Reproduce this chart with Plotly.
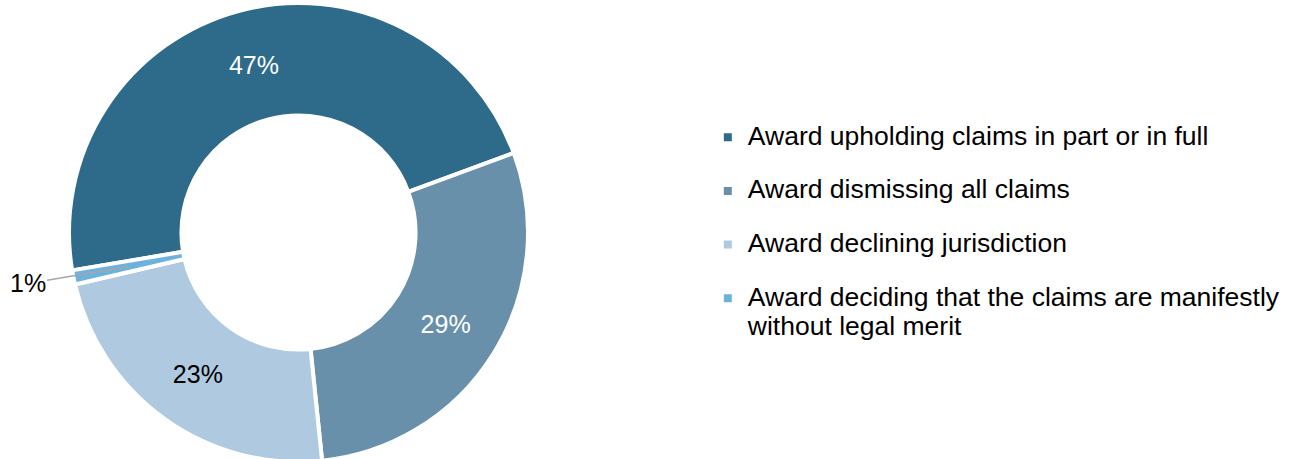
import math
import plotly.graph_objects as go

categories = [
    "Award upholding claims in part or in full",
    "Award dismissing all claims",
    "Award declining jurisdiction",
    "Award deciding that the claims are manifestly<br>without legal merit",
]
shares = [47, 29, 23, 1]
colors = ["#2E6A8A", "#6890AB", "#AFCAE0", "#6DB1DD"]
label_colors = ["white", "white", "black", "black"]
text_positions = ["inside", "inside", "inside", "none"]

W, H = 1294, 462
M_TOP = 3
ROTATION = -99.5
HOLE = 0.51
DOM_X = [0, 0.46136]
FONT = "Liberation Sans, Arial, sans-serif"

# legend entries: pad single-line labels with a blank second line so items are evenly spaced
span1 = '<span style="font-size:26.5px">'
span2 = '<span style="font-size:26.5px;baseline-shift:-3.5px">'
legend_labels = []
for c in categories:
    if "<br>" in c:
        first, second = c.split("<br>", 1)
        t = span1 + first + "</span><br>" + span2 + second + "</span>"
    else:
        t = span1 + c + "</span><br> "
    legend_labels.append(t)

fig = go.Figure(
    go.Pie(
        labels=legend_labels,
        values=shares,
        hole=HOLE,
        sort=False,
        direction="clockwise",
        rotation=ROTATION,
        marker=dict(colors=colors, line=dict(color="white", width=4)),
        textinfo="percent",
        textposition=text_positions,
        insidetextorientation="horizontal",
        textfont=dict(family=FONT, size=25, color=label_colors),
        domain=dict(x=DOM_X, y=[0, 1]),
        hoverinfo="skip",
    )
)

# leader-line label for the smallest slice, placed from the slice's own angle
plot_w, plot_h = W, H - M_TOP
R = min((DOM_X[1] - DOM_X[0]) * plot_w, plot_h) / 2
r_mid = R * (1 + HOLE) / 2
total = sum(shares)
mid_frac = (sum(shares[:3]) + shares[3] / 2) / total
ang = math.radians(ROTATION + 360 * mid_frac)
px_x = (DOM_X[0] + DOM_X[1]) / 2 + r_mid * math.sin(ang) / plot_w
px_y = 0.5 + r_mid * math.cos(ang) / plot_h

fig.add_annotation(
    x=px_x, y=px_y, xref="paper", yref="paper",
    text=f"{shares[3]}%",
    showarrow=True, arrowhead=0, arrowwidth=1.5, arrowcolor="#A6A6A6",
    ax=-101, ay=17, standoff=0,
    font=dict(family=FONT, size=25, color="black"),
)

# legend top placed at 118 px from the top of the page
legend_y = 1 - (118 - M_TOP) / plot_h

fig.update_layout(
    width=W,
    height=H,
    margin=dict(l=0, r=0, t=M_TOP, b=0, autoexpand=False),
    paper_bgcolor="white",
    plot_bgcolor="white",
    showlegend=True,
    legend=dict(
        x=0.547,
        xanchor="left",
        y=legend_y,
        yanchor="top",
        valign="top",
        font=dict(family=FONT, size=19.5, color="black"),
        bgcolor="rgba(0,0,0,0)",
        borderwidth=0,
    ),
)

fig.write_html(
    "out.html",
    config={"displayModeBar": False},
    post_script="document.body.style.margin='0px';document.body.style.overflow='hidden';",
)
